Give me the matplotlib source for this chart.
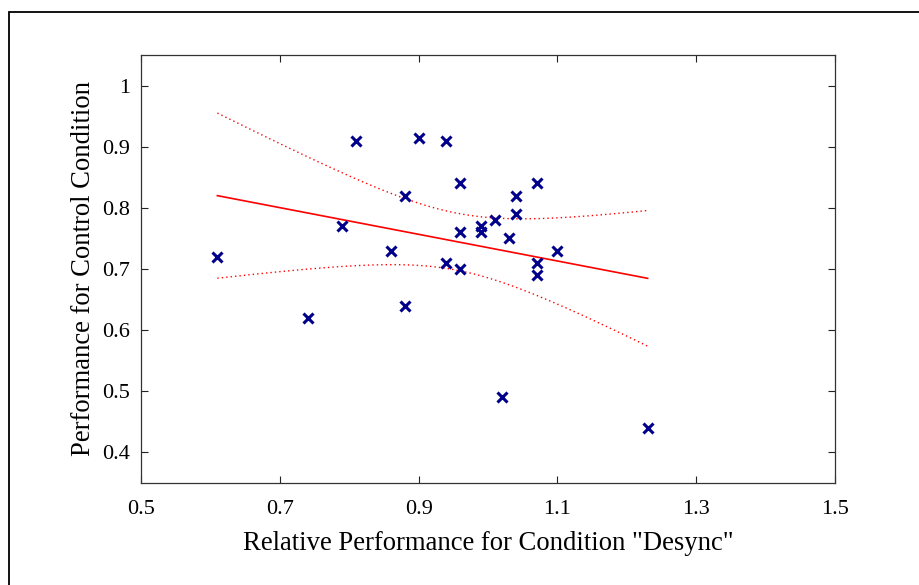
import numpy as np
import matplotlib
matplotlib.use("Agg")
import matplotlib.pyplot as plt
from matplotlib.patches import Rectangle

# Relative performance in the "Desync" condition vs. performance in the control condition
desync_rel = [0.61, 0.74, 0.79, 0.81, 0.86, 0.88, 0.88, 0.90, 0.94, 0.94,
              0.96, 0.96, 0.96, 0.99, 0.99, 1.01, 1.03, 1.04, 1.04, 1.07,
              1.07, 1.07, 1.10, 1.02, 1.23]
control_perf = [0.72, 0.62, 0.77, 0.91, 0.73, 0.82, 0.64, 0.915, 0.91, 0.71,
                0.84, 0.76, 0.70, 0.77, 0.76, 0.78, 0.75, 0.82, 0.79, 0.84,
                0.71, 0.69, 0.73, 0.49, 0.44]

x_ticks = [0.5, 0.7, 0.9, 1.1, 1.3, 1.5]
y_ticks = [0.4, 0.5, 0.6, 0.7, 0.8, 0.9, 1.0]
y_tick_labels = ["0.4", "0.5", "0.6", "0.7", "0.8", "0.9", "1"]

# two-sided 95% Student t quantile for n - 2 = 23 degrees of freedom
T_CRIT = 2.069

x = np.asarray(desync_rel)
y = np.asarray(control_perf)
n = len(x)

# least-squares line with confidence band for the mean response
slope, intercept = np.polyfit(x, y, 1)
resid = y - (slope * x + intercept)
s = np.sqrt(np.sum(resid ** 2) / (n - 2))
sxx = np.sum((x - x.mean()) ** 2)
xf = np.linspace(x.min(), x.max(), 200)
yf = slope * xf + intercept
half = T_CRIT * s * np.sqrt(1.0 / n + (xf - x.mean()) ** 2 / sxx)

plt.rcParams["font.family"] = ["Liberation Serif", "DejaVu Serif"]

fig = plt.figure(figsize=(9.2, 5.85), dpi=100)
fig.patch.set_facecolor("white")

# outer frame around the figure
fig.patches.append(Rectangle((8.5 / 920, -0.1), 1.2, 1 - 11.5 / 585 + 0.1,
                             transform=fig.transFigure, fill=False,
                             edgecolor="black", linewidth=1.3))

ax = fig.add_axes([141 / 920, 1 - 483 / 585, 694 / 920, 428 / 585])

ax.plot(xf, yf, color="red", linewidth=1.2, zorder=2)
ax.plot(xf, yf + half, color="red", linestyle=(0, (1, 2.2)), linewidth=1.0, zorder=2)
ax.plot(xf, yf - half, color="red", linestyle=(0, (1, 2.2)), linewidth=1.0, zorder=2)
ax.plot(x, y, linestyle="none", marker="x", color="#00008B",
        markersize=7, markeredgewidth=2.2, zorder=3)

ax.set_xlim(0.5, 1.5)
ax.set_ylim(0.35, 1.05)
ax.set_xticks(x_ticks)
ax.set_xticklabels([f"{v:g}" for v in x_ticks])
ax.set_yticks(y_ticks)
ax.set_yticklabels(y_tick_labels)

ax.tick_params(direction="in", length=5, width=0.8, top=True, right=True,
               labelsize=16, colors="#222222", labelcolor="black")
ax.tick_params(axis="x", pad=12)
ax.tick_params(axis="y", pad=8)
for sp in ax.spines.values():
    sp.set_linewidth(0.9)
    sp.set_color("#333333")

ax.set_xlabel('Relative Performance for Condition "Desync"', fontsize=19.2, labelpad=9)
ax.set_ylabel("Performance for Control Condition", fontsize=19.2, labelpad=4)

fig.savefig("out.png", dpi=100)
